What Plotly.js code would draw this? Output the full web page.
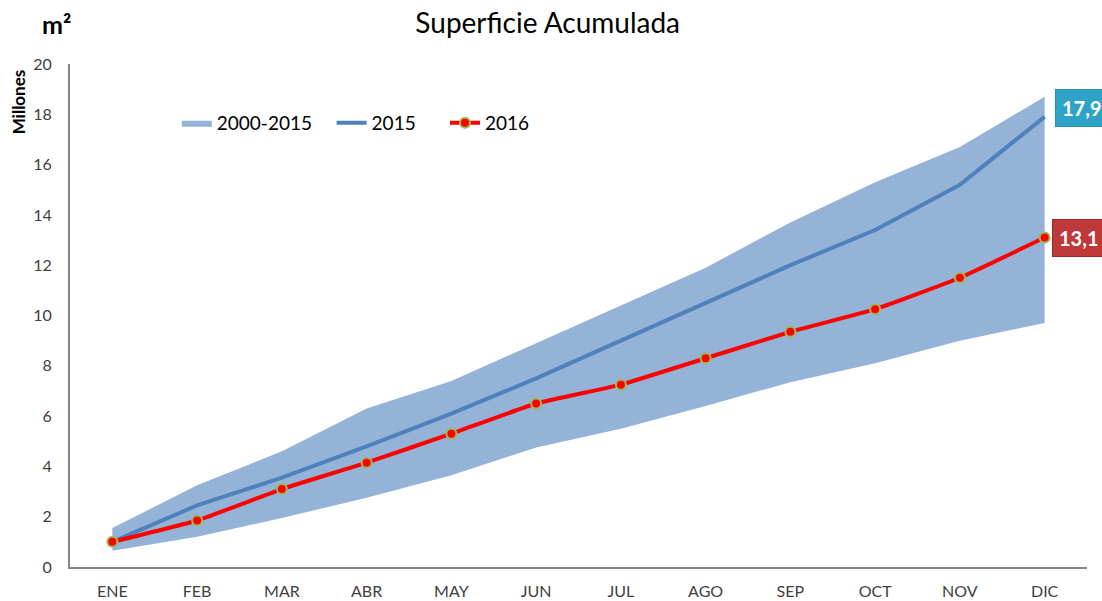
<!DOCTYPE html>
<html>
<head>
<meta charset="utf-8">
<script src="https://cdn.plot.ly/plotly-3.0.1.min.js"></script>
<style>html,body{margin:0;padding:0;background:#fff;}#chart{width:1102px;height:601px;}</style>
</head>
<body>
<div id="chart"></div>
<script>
const months = ["ENE","FEB","MAR","ABR","MAY","JUN","JUL","AGO","SEP","OCT","NOV","DIC"];
const bandLow = [0.65, 1.2, 1.95, 2.75, 3.65, 4.75, 5.5, 6.4, 7.35, 8.1, 9.0, 9.7];
const bandHigh = [1.55, 3.25, 4.6, 6.3, 7.4, 8.9, 10.4, 11.9, 13.7, 15.3, 16.7, 18.7];
const s2015 = [1.0, 2.45, 3.55, 4.8, 6.1, 7.5, 9.0, 10.5, 12.0, 13.4, 15.2, 17.9];
const s2016 = [1.0, 1.85, 3.1, 4.15, 5.3, 6.5, 7.25, 8.3, 9.35, 10.25, 11.5, 13.1];
const yTicks = [0, 2, 4, 6, 8, 10, 12, 14, 16, 18, 20];

const FONT = "Lato, 'Open Sans', sans-serif";
const fmt = v => v.toFixed(1).replace('.', ',');
const nb = n => '\u00a0'.repeat(n);

const traces = [
  {x: months, y: bandLow, type: 'scatter', mode: 'lines', line: {width: 0, color: '#95B3D7'},
   showlegend: false, hoverinfo: 'skip'},
  {x: months, y: bandHigh, type: 'scatter', mode: 'lines', fill: 'tonexty', fillcolor: '#95B3D7',
   line: {width: 0, color: '#95B3D7'}, name: '2000-2015' + nb(3)},
  {x: months, y: s2015, type: 'scatter', mode: 'lines', line: {color: '#4F81BD', width: 4}, name: '2015' + nb(5)},
  {x: months, y: s2016, type: 'scatter', mode: 'lines+markers', name: '2016',
   line: {color: '#FF0000', width: 4, shape: 'spline', smoothing: 0.4},
   marker: {color: '#FF0000', size: 10, line: {color: '#9BBB59', width: 2}}}
];

const last = months.length - 1;
const layout = {
  width: 1102, height: 601,
  margin: {l: 70, r: 15, t: 64, b: 34},
  paper_bgcolor: '#fff', plot_bgcolor: '#fff',
  font: {family: FONT, color: '#404040', size: 16},
  title: {text: 'Superficie Acumulada', x: 0.497, xanchor: 'center', y: 0.962, yanchor: 'middle',
          font: {family: FONT, size: 28, color: '#000'}},
  xaxis: {type: 'category', range: [-0.5, 11.5], showgrid: false, zeroline: false,
          showline: true, linecolor: '#868686', linewidth: 2, ticks: '', ticklabelstandoff: 9,
          tickfont: {size: 16, color: '#404040'}, fixedrange: true},
  yaxis: {range: [0, 20], tickvals: yTicks, showgrid: false, zeroline: false,
          showline: true, linecolor: '#868686', linewidth: 2, ticks: '', ticklabelstandoff: 13,
          tickfont: {size: 16, color: '#404040'}, fixedrange: true},
  legend: {orientation: 'h', x: 0.105, xanchor: 'left', y: 0.883, yanchor: 'middle',
           font: {family: FONT, size: 19, color: '#000'}, bgcolor: 'rgba(0,0,0,0)', traceorder: 'normal'},
  showlegend: true,
  annotations: [
    {xref: 'paper', yref: 'paper', x: -0.013, y: 1.08, xanchor: 'center', yanchor: 'middle',
     text: '<b>m²</b>', showarrow: false, font: {family: FONT, size: 25, color: '#000'}},
    {xref: 'paper', yref: 'paper', x: -0.051, y: 0.924, xanchor: 'center', yanchor: 'middle', textangle: -90,
     text: '<b>Millones</b>', showarrow: false, font: {family: FONT, size: 17, color: '#000'}},
    {x: months[last], y: s2015[last], xref: 'x', yref: 'y', xanchor: 'left', yanchor: 'middle', xshift: 10, yshift: 9,
     text: '<b>' + fmt(s2015[last]) + '</b>', showarrow: false, bgcolor: '#2FA3C7', bordercolor: '#2690B2', borderwidth: 1,
     borderpad: 6, font: {family: FONT, size: 20, color: '#fff'}},
    {x: months[last], y: s2016[last], xref: 'x', yref: 'y', xanchor: 'left', yanchor: 'middle', xshift: 7,
     text: '<b>' + fmt(s2016[last]) + '</b>', showarrow: false, bgcolor: '#C0393A', bordercolor: '#9E2B2B', borderwidth: 1,
     borderpad: 6, font: {family: FONT, size: 20, color: '#fff'}}
  ]
};

Plotly.newPlot('chart', traces, layout, {displayModeBar: false, staticPlot: true});
</script>
</body>
</html>
